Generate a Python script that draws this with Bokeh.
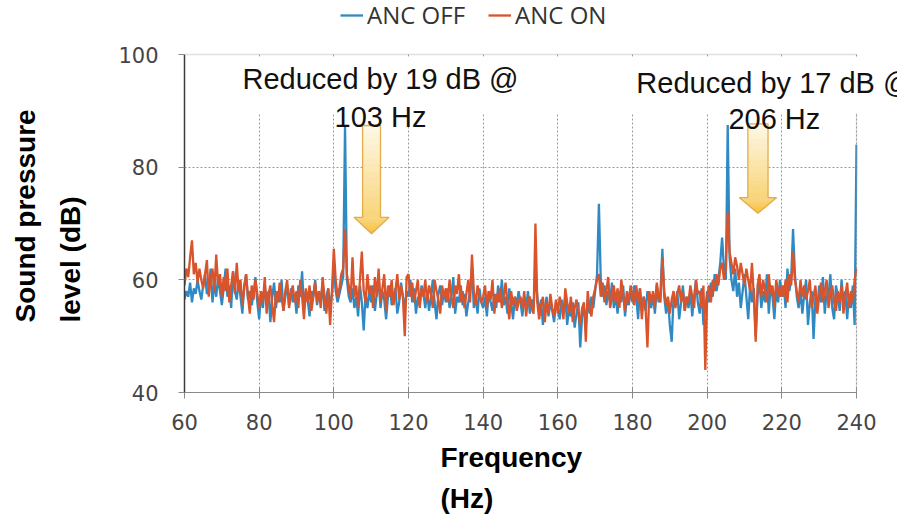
import numpy as np
from bokeh.plotting import figure
from bokeh.models import FixedTicker, Label, Legend, LegendItem, BoxAnnotation, Title
from bokeh.embed import file_html
from bokeh.resources import INLINE

# ---------------- data ----------------
freq = np.arange(60, 240.5, 0.5)  # frequency grid (Hz), 0.5 Hz steps

anc_off = [
    56.5, 58, 57, 59.5, 56, 58.5, 57.5, 60, 58, 56.5,
    59, 61, 57.5, 58, 62, 56, 59.5, 57, 60.5, 58,
    55.5, 58.5, 62, 57, 59, 55, 61.5, 58, 56.5, 60,
    57, 54, 59, 61, 56.5, 58, 55.5, 57.5, 60.5, 56,
    53, 57.5, 55, 59, 56, 58, 52.5, 57, 59.5, 55,
    58, 56, 60, 54.5, 57, 59, 55.5, 58.5, 56, 57.5,
    54, 59, 57, 61.5, 55, 58, 56.5, 53.5, 58, 57,
    60, 55.5, 58, 56, 59.5, 54.5, 57, 58.5, 55, 57.5,
    62, 58, 56, 57.5, 59, 60.5, 87.5, 60, 57, 56,
    58.5, 55, 57, 53.5, 59, 56, 51, 57.5, 55, 58,
    56, 59, 54.5, 57.5, 60, 55, 58, 56.5, 53, 57,
    59, 55.5, 57, 58.5, 54, 56, 59.5, 57, 55, 58,
    57, 60, 56, 58.5, 54, 57, 55.5, 59, 57.5, 55,
    58, 54.5, 57, 60, 56, 53, 57.5, 59, 55.5, 58,
    56, 58.5, 55, 57, 60.5, 54, 57, 56, 59, 55.5,
    57.5, 53.5, 56, 58, 62, 55, 57, 54, 58.5, 56,
    55, 57, 53.5, 58, 56, 54.5, 57.5, 55, 59, 56,
    60, 55.5, 57, 54, 58.5, 56, 53, 57, 55.5, 58,
    56, 53.5, 57, 55, 58, 54, 56.5, 55, 61, 57,
    54, 56.5, 52, 55, 57, 53.5, 56, 54.5, 52.5, 56,
    55, 53, 56.5, 54, 57, 52, 55, 53.5, 56, 51.5,
    54, 56, 48, 53.5, 55, 52, 56.5, 54, 57, 55,
    58, 61, 73.5, 60, 57, 59, 55.5, 58, 56, 59.5,
    55, 57.5, 54, 58, 56, 59, 53.5, 57, 55.5, 58,
    56, 59, 57, 53, 58.5, 55, 57, 54.5, 58, 56,
    55, 57.5, 54, 59, 56, 58, 65.5, 57, 54, 56.5,
    52, 49, 57, 55.5, 58, 53, 56, 59, 54.5, 57,
    55, 58, 53.5, 57, 60, 56, 54, 58.5, 52, 55,
    58, 56, 59.5, 57, 61, 58, 60, 63, 67.5, 62,
    60, 87.5, 64, 60, 58, 62, 57, 59.5, 55, 58,
    61, 57, 53, 59, 56, 58.5, 50, 57, 60, 55,
    58, 56, 61, 54, 59, 57, 53, 58.5, 56, 60,
    57, 59, 55, 62, 58, 60, 69, 61, 57, 55,
    58, 54, 57.5, 60, 52, 56, 58, 49.5, 57, 55,
    59, 56, 60.5, 54, 58, 57, 61, 55, 53, 59,
    57, 54.5, 60, 56, 58, 53, 57.5, 55, 59, 52,
    84,
]

anc_on = [
    59, 62, 60.5, 64, 67, 61, 63, 59.5, 62, 60,
    58.5, 61, 63.5, 57, 60, 62, 58, 64.5, 59, 61,
    57, 60.5, 58, 62, 56, 59, 61.5, 57.5, 63, 58,
    60, 55.5, 58.5, 61, 57, 54, 59, 56.5, 60, 57.5,
    55, 58, 56, 60.5, 54, 57.5, 59, 55.5, 52.5, 58,
    56, 59.5, 57, 54.5, 58, 60, 55, 57.5, 59, 56,
    58, 55, 60, 57, 53, 58.5, 56, 59, 54.5, 57,
    59.5, 56, 58, 55, 60.5, 57, 54, 58.5, 52, 58,
    65.5, 60, 57, 58.5, 61, 62, 69, 61, 59, 56.5,
    64, 57, 59, 55, 60, 65, 58, 56, 61, 57.5,
    59, 55, 60.5, 57, 62, 56, 58.5, 61, 54.5, 59,
    57, 60, 55.5, 58, 61, 56.5, 59, 57, 50, 60.5,
    61, 57, 59.5, 56, 58, 60, 55, 58.5, 57, 60,
    56, 59, 57.5, 55, 60, 58, 56.5, 54, 59, 57,
    58.5, 56, 60, 57, 55, 59, 57.5, 61, 56, 58,
    55, 57.5, 60, 56, 64.5, 58, 55.5, 59, 57, 56,
    57, 59, 55, 58, 56.5, 60, 54, 57.5, 56, 58.5,
    55, 57, 59.5, 56, 53, 58, 55.5, 57, 54.5, 56,
    57, 55, 58, 53.5, 56.5, 57, 55, 54, 70, 56,
    53, 55.5, 57, 52.5, 56, 54, 57.5, 55, 53.5, 56.5,
    54, 57, 55.5, 53, 58.5, 56, 54, 57, 52.5, 55,
    56.5, 54, 52, 55, 56, 49, 58, 55, 53.5, 57,
    58.5, 60, 61, 57, 59.5, 56, 58, 60.5, 55, 57,
    59, 56, 58.5, 55, 60, 57.5, 54.5, 58, 56, 59,
    57, 55.5, 59, 56, 58.5, 53, 57, 55, 48, 58,
    56, 58, 55, 59.5, 57, 56, 64, 58, 55.5, 57,
    54, 56.5, 58, 55, 57.5, 59, 56, 58, 54.5, 57,
    56, 59, 57, 55, 60, 57.5, 58, 55, 59, 44,
    57, 59, 56, 60, 58, 61, 59, 62, 63, 60,
    62, 72, 65, 63, 61, 64, 62.5, 60, 63, 61,
    59, 62, 60, 58, 63, 57, 49, 59, 61, 57,
    60, 58, 56, 61, 57.5, 59, 55, 60, 58, 57,
    59, 57, 60, 56, 61, 59, 65, 60, 58, 56,
    60, 57, 59, 56.5, 58, 60, 55, 57, 59, 54,
    57, 59.5, 56, 58, 60, 55, 57.5, 59, 56, 54.5,
    58, 56, 59, 54, 57, 59.5, 55, 58, 56, 60,
    62,
]

x_ticks = [60, 80, 100, 120, 140, 160, 180, 200, 220, 240]
y_ticks = [40, 60, 80, 100]
series_names = ["ANC OFF", "ANC ON"]
annotations = [("Reduced by 19 dB @", "103 Hz"), ("Reduced by 17 dB @", "206 Hz")]
x_title = ["Frequency", "(Hz)"]
y_title = ["Sound pressure", "level (dB)"]

BLUE = "#2f8ac4"
ORANGE = "#d9532b"
FRAME = "#9a9a9a"

X_MIN, X_MAX = 60, 240
Y_MIN, Y_MAX = 40, 100
# The frame runs past 240 Hz and above 100 dB so that the legend and the
# clipped annotation can sit there; axes are bounded to the real ranges.
p = figure(width=897, height=519, x_range=(X_MIN, 250.98), y_range=(Y_MIN, 109.59),
           output_backend="svg", toolbar_location=None,
           min_border_left=184, min_border_right=0,
           min_border_top=0, min_border_bottom=127)
p.background_fill_color = "white"
p.border_fill_color = "white"
p.outline_line_color = None

p.xaxis.ticker = FixedTicker(ticks=x_ticks)
p.yaxis.ticker = FixedTicker(ticks=y_ticks)
p.xaxis.bounds = (X_MIN, X_MAX)
p.yaxis.bounds = (Y_MIN, Y_MAX)
for ax in (p.xaxis, p.yaxis):
    ax.major_label_text_font = "DejaVu Sans"
    ax.major_label_text_font_size = "21px"
    ax.major_label_text_color = "#454545"
    ax.minor_tick_line_color = None
p.xaxis.axis_line_color = "#8a8a8a"
p.xaxis.major_tick_line_color = "#8a8a8a"
p.xaxis.major_tick_in = 5
p.xaxis.major_tick_out = 6
p.xaxis.major_label_standoff = 15
p.yaxis.axis_line_color = "#3a3a3a"
p.yaxis.axis_line_width = 1.5
p.yaxis.major_tick_line_color = "#8a8a8a"
p.yaxis.major_tick_in = 0
p.yaxis.major_tick_out = 6
p.yaxis.major_label_standoff = 20

p.grid.grid_line_color = FRAME
p.grid.grid_line_dash = "2 2"
p.grid.grid_line_width = 1
p.ygrid.ticker = FixedTicker(ticks=[60, 80])

# axis titles (two lines each, left-aligned like the original)
def title(text, side, offset, standoff, valign="bottom"):
    p.add_layout(Title(text=text, align="left", offset=offset, standoff=standoff,
                       vertical_align=valign,
                       text_font="Liberation Sans", text_font_style="bold",
                       text_font_size="28px", text_color="#000000"), side)

title(x_title[0], "below", 256, 14)
title(x_title[1], "below", 256, 3)
title(y_title[1], "left", 70, 57, "middle")
title(y_title[0], "left", 70, -55, "middle")

r_off = p.line(freq, anc_off, line_color=BLUE, line_width=2.3)
r_on = p.line(freq, anc_on, line_color=ORANGE, line_width=2.3)

# ---------------- arrows (annotation) ----------------
def hexcol(c):
    return "#%02x%02x%02x" % tuple(int(round(v)) for v in c)

def arrow(xc, shw, hhw, y_top, y_head, y_tip):
    c_top = np.array([253, 247, 228])
    c_mid = np.array([249, 214, 125])
    c_bot = np.array([246, 192, 62])
    n = 14
    ys = np.linspace(y_top, y_head, n + 1)
    xs_list, ys_list, cols = [], [], []
    for i in range(n):
        t = i / (n - 1)
        cols.append(hexcol(c_top + (c_mid - c_top) * t))
        xs_list.append([xc - shw, xc + shw, xc + shw, xc - shw])
        ys_list.append([ys[i], ys[i], ys[i + 1] - 0.05, ys[i + 1] - 0.05])
    m = 6
    hy = np.linspace(y_head, y_tip, m + 1)
    for i in range(m):
        t = i / (m - 1)
        w0 = hhw * (hy[i] - y_tip) / (y_head - y_tip)
        w1 = hhw * (hy[i + 1] - y_tip) / (y_head - y_tip)
        cols.append(hexcol(c_mid + (c_bot - c_mid) * t))
        xs_list.append([xc - w0, xc + w0, xc + w1, xc - w1])
        ys_list.append([hy[i], hy[i], hy[i + 1], hy[i + 1]])
    p.patches(xs_list, ys_list, fill_color=cols, line_color=cols, line_width=0.5)
    p.patch([xc - shw, xc + shw, xc + shw, xc + hhw, xc, xc - hhw, xc - shw],
            [y_top, y_top, y_head, y_head, y_tip, y_head, y_head],
            fill_alpha=0, line_color="#e4ad4c", line_width=1.3)

arrow(110.1, 2.4, 4.7, 87.4, 71.1, 68.2)
arrow(213.6, 2.7, 5.0, 87.7, 74.6, 71.8)

# blank the extended area (right of 240 Hz, above 100 dB), then frame lines
p.add_layout(BoxAnnotation(left=X_MAX + 0.25, right=270, bottom=30, top=120,
                           fill_color="white", fill_alpha=1, line_alpha=0))
p.add_layout(BoxAnnotation(left=50, right=270, bottom=Y_MAX + 0.1, top=120,
                           fill_color="white", fill_alpha=1, line_alpha=0))
p.add_layout(BoxAnnotation(left=X_MIN, right=X_MAX, bottom=Y_MAX, top=Y_MAX,
                           fill_alpha=0, line_color=FRAME, line_width=1.3))
p.add_layout(BoxAnnotation(left=X_MAX, right=X_MAX, bottom=Y_MIN, top=Y_MAX,
                           fill_alpha=0, line_color=FRAME, line_width=1.3))

# white boxes behind the first annotation lines
p.add_layout(BoxAnnotation(left=74.5, right=150.5, bottom=89.6, top=99.6,
                           fill_color="white", fill_alpha=1, line_alpha=0))
p.add_layout(BoxAnnotation(left=156.5, right=270, bottom=89.6, top=99.6,
                           fill_color="white", fill_alpha=1, line_alpha=0))

def lab(x, y, text):
    p.add_layout(Label(x=x, y=y, text=text, text_font="Liberation Sans",
                       text_font_size="29px", text_align="center",
                       text_baseline="alphabetic", text_color="#111111"))

lab(112.5, 95.6, annotations[0][0])
lab(112.5, 88.9, annotations[0][1])
lab(218.0, 94.9, annotations[1][0])
lab(218.0, 88.5, annotations[1][1])

# legend at the top, inside the (extended) frame
legend = Legend(items=[LegendItem(label=series_names[0], renderers=[r_off]),
                       LegendItem(label=series_names[1], renderers=[r_on])],
                orientation="horizontal", location=(156, 361),
                padding=0, margin=0, spacing=23, glyph_width=23, glyph_height=20,
                label_standoff=4, label_text_font="Open Sans",
                label_text_font_size="24px", label_text_color="#333333",
                background_fill_alpha=0, border_line_alpha=0)
p.add_layout(legend, "center")

open("out.html", "w").write(file_html(p, INLINE))
